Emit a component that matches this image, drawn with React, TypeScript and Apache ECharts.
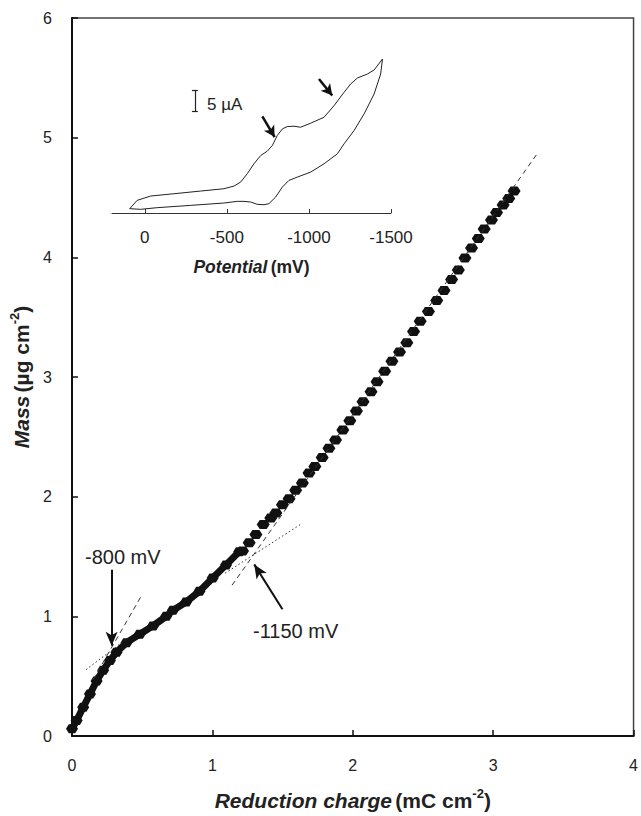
import React, { useEffect, useRef } from 'react';
import * as echarts from 'echarts';

// Main plot: mass vs reduction charge
const denseCharge = [0.0, 0.033, 0.08, 0.128, 0.175, 0.222, 0.27, 0.317, 0.388, 0.482, 0.577, 0.671, 0.719, 0.813, 0.908, 1.002, 1.097, 1.191];
const denseMass = [0.06, 0.13, 0.24, 0.35, 0.46, 0.55, 0.63, 0.7, 0.78, 0.85, 0.92, 1.0, 1.05, 1.12, 1.21, 1.32, 1.43, 1.54];
const sparseCharge = [1.215, 1.262, 1.31, 1.362, 1.416, 1.452, 1.499, 1.546, 1.593, 1.641, 1.688, 1.73, 1.782, 1.83, 1.877, 1.929, 1.979, 2.026, 2.073, 2.13, 2.173, 2.227, 2.279, 2.333, 2.385, 2.433, 2.48, 2.539, 2.598, 2.65, 2.704, 2.752, 2.799, 2.846, 2.894, 2.936, 2.988, 3.024, 3.071, 3.111, 3.149];
const sparseMass = [1.545, 1.614, 1.684, 1.767, 1.822, 1.864, 1.933, 1.983, 2.053, 2.114, 2.197, 2.252, 2.327, 2.405, 2.474, 2.557, 2.635, 2.716, 2.793, 2.877, 2.96, 3.048, 3.131, 3.209, 3.287, 3.381, 3.465, 3.548, 3.639, 3.722, 3.814, 3.894, 3.994, 4.078, 4.158, 4.236, 4.311, 4.374, 4.438, 4.491, 4.555];

// Tangent lines [x1, y1, x2, y2]
const dashedTangents = [
  [0.15, 0.47, 0.494, 1.171],
  [1.14, 1.26, 3.31, 4.86],
];
const dottedTangents = [
  [0.1, 0.555, 0.4, 0.82],
  [1.09, 1.36, 1.63, 1.77],
];
// Annotation arrows [fromX, fromY, toX, toY]
const mainArrows = [
  [0.282, 1.39, 0.282, 0.755],
  [1.499, 1.059, 1.298, 1.434],
];
const mainArrowLabels = ['-800 mV', '-1150 mV'];

// Inset: cyclic voltammogram
const cvPotential = [92, 47, -35, -177, -340, -482, -543, -584, -624, -665, -706, -746, -777, -807, -838, -868, -909, -949, -1010, -1092, -1153, -1214, -1254, -1295, -1356, -1397, -1448,
  -1437, -1397, -1336, -1275, -1214, -1173, -1092, -1010, -929, -878, -838, -797, -756, -726, -685, -645, -604, -563, -482, -279, -75, 26, 92];
const cvCurrent = [1.05, 3.06, 4.11, 4.67, 5.32, 5.88, 6.53, 7.5, 9.51, 11.93, 13.94, 14.99, 16.36, 18.78, 20.39, 20.96, 21.04, 20.79, 21.76, 23.21, 26.03, 29.26, 31.27, 32.72, 33.69, 34.66, 37.32,
  33.69, 28.85, 24.02, 19.99, 16.76, 14.35, 11.93, 9.91, 8.7, 7.9, 6.29, 3.87, 2.26, 2.01, 2.1, 2.66, 2.82, 2.82, 2.42, 1.85, 1.29, 0.89, 1.05];
const insetTicks = [0, -500, -1000, -1500];
const insetArrows = [
  [-716, 23.4, -791, 18.4],
  [-1061, 32.5, -1142, 28.5],
];
const scaleBar = { potential: -305, from: 24.66, to: 29.66, capHalf: 18 };

const FONT = '"Liberation Sans", Arial, sans-serif';
const MARKER = 'path://M0,5 L3,0 L10,0 L13,5 L10,10 L3,10 Z';

export default function App() {
  const ref = useRef<HTMLDivElement>(null);
  useEffect(() => {
    if (!ref.current) return;
    const chart = echarts.init(ref.current, undefined, { renderer: 'svg' });

    const dense = denseCharge.map((c, i) => [c, denseMass[i]]);
    const sparse = sparseCharge.map((c, i) => [c, sparseMass[i]]);
    const cv = cvPotential.map((p, i) => [p, cvCurrent[i]]);
    const seg = (a: number[]) => [{ coord: [a[0], a[1]] }, { coord: [a[2], a[3]] }];

    const nameRich = (size: number) => ({
      bi: { fontSize: size, fontWeight: 'bold', fontStyle: 'italic', color: '#222', fontFamily: FONT, lineHeight: 24, verticalAlign: 'bottom' },
      b: { fontSize: size, fontWeight: 'bold', color: '#222', fontFamily: FONT, lineHeight: 24, verticalAlign: 'bottom' },
      s: { fontSize: 13, fontWeight: 'bold', color: '#222', fontFamily: FONT, lineHeight: 24, verticalAlign: 'top' },
    });

    const option: any = {
      animation: false,
      textStyle: { fontFamily: FONT },
      grid: [
        { left: 72, top: 18, width: 564, height: 721, show: true, borderColor: '#444', borderWidth: 1.5, backgroundColor: 'transparent' },
        { left: 112, top: 48, width: 279, height: 165, show: false },
      ],
      xAxis: [
        {
          type: 'value', gridIndex: 0, min: 0, max: 4, interval: 1,
          axisLine: { show: true, onZero: false, lineStyle: { color: '#111', width: 2 } },
          axisTick: { show: true, inside: true, length: 6, lineStyle: { color: '#111', width: 1.5 } },
          axisLabel: { fontSize: 16, color: '#222', margin: 21, fontFamily: FONT },
          splitLine: { show: false },
          name: '{bi|Reduction charge} {b|(mC cm}{s|-2}{b|)}',
          nameLocation: 'middle', nameGap: 51,
          nameTextStyle: { rich: nameRich(21) },
        },
        {
          type: 'value', gridIndex: 1, min: -1500, max: 200, interval: 500, inverse: true,
          axisLine: { show: true, onZero: false, lineStyle: { color: '#333', width: 1 } },
          axisTick: { show: true, inside: true, length: 4, customValues: insetTicks, lineStyle: { color: '#333' } },
          axisLabel: { fontSize: 17, color: '#222', margin: 16, customValues: insetTicks, fontFamily: FONT, formatter: (v: number) => String(v) },
          splitLine: { show: false },
          name: '{bi|Potential} {b|(mV)}',
          nameLocation: 'middle', nameGap: 45,
          nameTextStyle: {
            rich: {
              bi: { fontSize: 17.5, fontWeight: 'bold', fontStyle: 'italic', color: '#222', fontFamily: FONT },
              b: { fontSize: 17.5, fontWeight: 'bold', color: '#222', fontFamily: FONT },
            },
          },
        },
      ],
      yAxis: [
        {
          type: 'value', gridIndex: 0, min: 0, max: 6, interval: 1,
          axisLine: { show: true, onZero: false, lineStyle: { color: '#111', width: 2 } },
          axisTick: { show: true, inside: true, length: 6, lineStyle: { color: '#111', width: 1.5 } },
          axisLabel: { fontSize: 16, color: '#222', margin: 20, fontFamily: FONT },
          splitLine: { show: false },
          name: '{bi|Mass} {b|(µg cm}{s|-2}{b|)}',
          nameLocation: 'middle', nameGap: 38,
          nameTextStyle: { rich: nameRich(21) },
        },
        {
          type: 'value', gridIndex: 1, min: 0, max: 40, show: false,
        },
      ],
      series: [
        {
          name: 'tangents', type: 'line', xAxisIndex: 0, yAxisIndex: 0, data: [], z: 1, silent: true,
          markLine: {
            silent: true, symbol: ['none', 'none'], label: { show: false },
            data: [
              ...dashedTangents.map((t) => {
                const s: any = seg(t);
                s[0].lineStyle = { type: [5, 4], color: '#333', width: 1 };
                return s;
              }),
              ...dottedTangents.map((t) => {
                const s: any = seg(t);
                s[0].lineStyle = { type: [1.5, 2.5], color: '#333', width: 1 };
                return s;
              }),
            ],
          },
        },
        {
          name: 'dense', type: 'line', xAxisIndex: 0, yAxisIndex: 0, data: dense, z: 3,
          symbol: MARKER, symbolSize: [12, 9], showSymbol: true,
          itemStyle: { color: '#111', opacity: 1 }, lineStyle: { color: '#111', width: 7 },
        },
        {
          name: 'sparse', type: 'scatter', xAxisIndex: 0, yAxisIndex: 0, data: sparse, z: 3,
          symbol: MARKER, symbolSize: [13, 9], itemStyle: { color: '#111', opacity: 1 },
        },
        {
          name: 'arrows', type: 'line', xAxisIndex: 0, yAxisIndex: 0, data: [], z: 4, silent: true,
          markLine: {
            silent: true, symbol: ['none', 'arrow'], symbolSize: [9, 14], label: { show: false },
            lineStyle: { type: 'solid', color: '#111', width: 2 },
            data: mainArrows.map(seg),
          },
        },
        {
          name: 'cv', type: 'line', xAxisIndex: 1, yAxisIndex: 1, data: cv, z: 2,
          showSymbol: false, symbol: 'none', smooth: false,
          lineStyle: { color: '#222', width: 1 },
          markLine: {
            silent: true, symbol: ['none', 'none'], label: { show: false },
            lineStyle: { type: 'solid', color: '#222', width: 1.2 },
            data: [
              [{ coord: [scaleBar.potential, scaleBar.from] }, { coord: [scaleBar.potential, scaleBar.to] }],
              [{ coord: [scaleBar.potential - scaleBar.capHalf, scaleBar.from] }, { coord: [scaleBar.potential + scaleBar.capHalf, scaleBar.from] }],
              [{ coord: [scaleBar.potential - scaleBar.capHalf, scaleBar.to] }, { coord: [scaleBar.potential + scaleBar.capHalf, scaleBar.to] }],
            ],
          },
        },
        {
          name: 'cvArrows', type: 'line', xAxisIndex: 1, yAxisIndex: 1, data: [], z: 4, silent: true,
          markLine: {
            silent: true, symbol: ['none', 'arrow'], symbolSize: [9, 11], label: { show: false },
            lineStyle: { type: 'solid', color: '#111', width: 2.5 },
            data: insetArrows.map(seg),
          },
        },
      ],
      graphic: [
        { type: 'text', left: 85, top: 547, style: { text: mainArrowLabels[0], fontSize: 20, fill: '#222', fontFamily: FONT } },
        { type: 'text', left: 253, top: 621, style: { text: mainArrowLabels[1], fontSize: 20, fill: '#222', fontFamily: FONT } },
        { type: 'text', left: 207, top: 96, style: { text: '5 µA', fontSize: 17, fill: '#222', fontFamily: FONT } },
      ],
    };
    chart.setOption(option);
    return () => chart.dispose();
  }, []);
  return <div ref={ref} style={{ position: 'absolute', left: 0, top: 0, width: 641, height: 816, background: '#fff' }} />;
}
